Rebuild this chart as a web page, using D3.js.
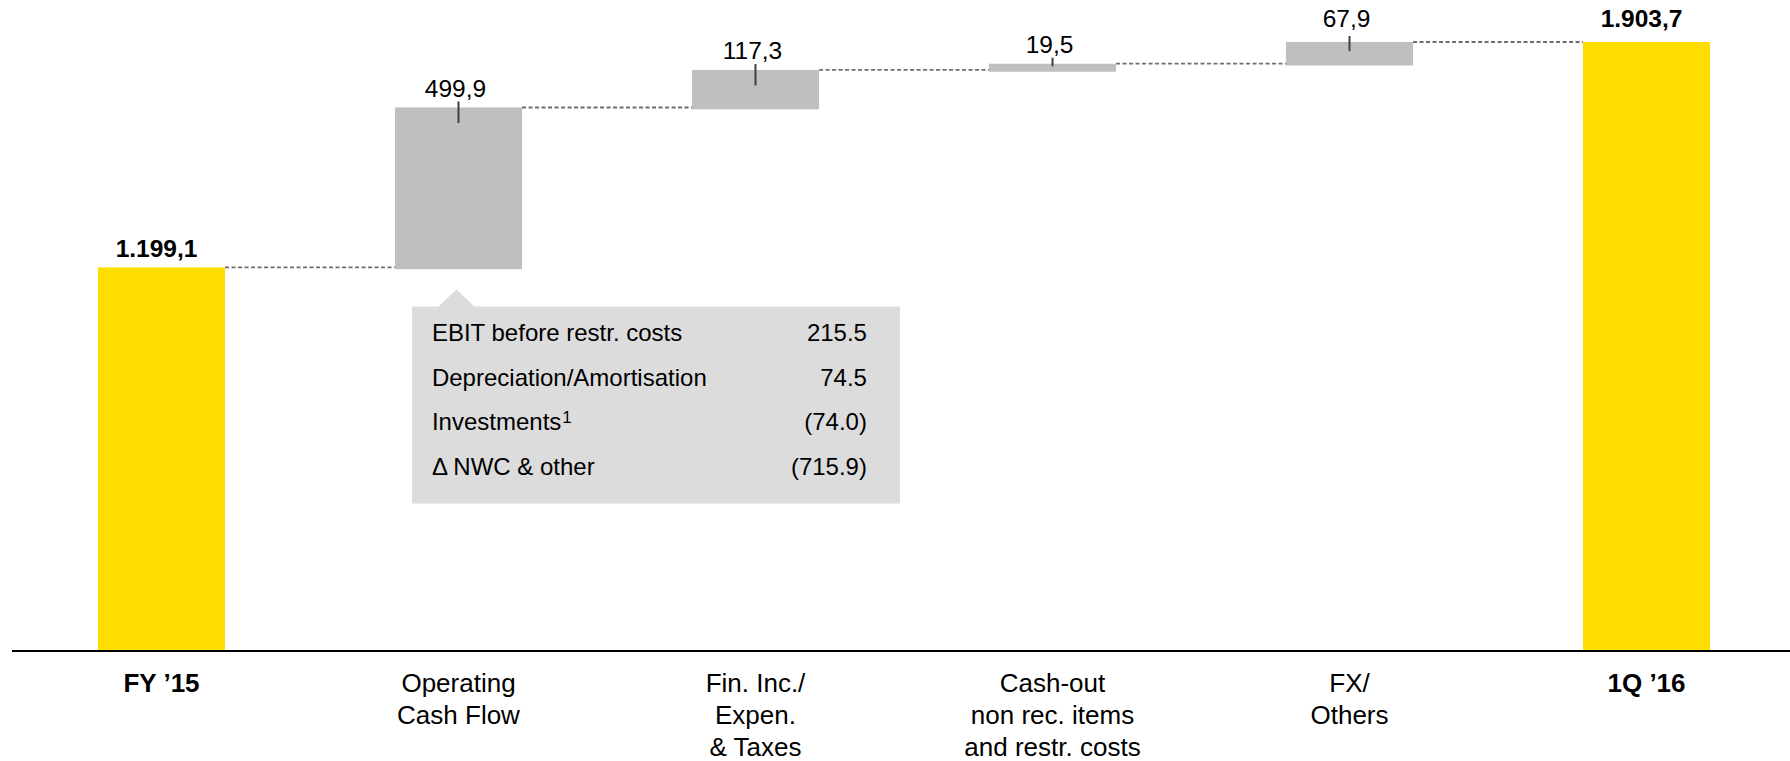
<!DOCTYPE html>
<html>
<head>
<meta charset="utf-8">
<script src="https://cdn.jsdelivr.net/npm/d3@7"></script>
<style>
  html, body { margin: 0; padding: 0; background: #fff; }
  svg { display: block; }
  text { font-family: "Liberation Sans", Arial, sans-serif; fill: #000; }
</style>
</head>
<body>
<svg id="chart" width="1790" height="761"></svg>
<script>
// Net financial position bridge: FY '15 -> 1Q '16
const categoryKeys = ["fy15", "ocf", "fin", "cashout", "fx", "q116"];
const categoryLines = [
  ["FY \u201915"],
  ["Operating", "Cash Flow"],
  ["Fin. Inc./", "Expen.", "& Taxes"],
  ["Cash-out", "non rec. items", "and restr. costs"],
  ["FX/", "Others"],
  ["1Q \u201916"]
];
const barValues = [1199.1, 499.9, 117.3, 19.5, 67.9, 1903.7];
const barKinds = ["total", "delta", "delta", "delta", "delta", "total"];

// Breakdown of the operating cash flow
const breakdownItems = ["EBIT before restr. costs", "Depreciation/Amortisation", "Investments", "\u0394 NWC & other"];
const breakdownNotes = ["", "", "1", ""];
const breakdownValues = [215.5, 74.5, -74.0, -715.9];

const colors = { total: "#ffdd00", delta: "#bfbfbf", box: "#dcdcdc", connector: "#6e6e6e", tick: "#404040" };

const deFormat = d3.formatLocale({ decimal: ",", thousands: ".", grouping: [3], currency: ["", ""] }).format(",.1f");
const enFormat = d3.format(".1f");
const fmtBreakdown = v => v < 0 ? "(" + enFormat(-v) + ")" : enFormat(v);

// Running totals for the waterfall
let running = 0;
const bars = categoryKeys.map((key, i) => {
  let y0, y1;
  if (barKinds[i] === "total") { y0 = 0; y1 = barValues[i]; running = barValues[i]; }
  else { y0 = running; y1 = running + barValues[i]; running = y1; }
  return { key, i, kind: barKinds[i], value: barValues[i], y0, y1, lines: categoryLines[i] };
});
const maxTotal = d3.max(barValues);

const svg = d3.select("#chart");
const W = 1790, H = 761;

const x = d3.scaleBand()
  .domain(categoryKeys)
  .range([13, 1795])
  .paddingInner(0.572)
  .paddingOuter(0.286);

const y = d3.scaleLinear()
  .domain([0, maxTotal])
  .range([651, 42]);

// Change bars overlap the previous level slightly so the steps read as joined
const stepOverlap = 1.8;

// Dashed connectors between consecutive bars
const connectors = bars.slice(0, -1).map((b, i) => ({
  x1: x(b.key) + x.bandwidth(),
  x2: x(bars[i + 1].key),
  v: b.y1
}));
svg.append("g").selectAll("line").data(connectors).join("line")
  .attr("x1", d => d.x1).attr("x2", d => d.x2)
  .attr("y1", d => y(d.v)).attr("y2", d => y(d.v))
  .attr("stroke", colors.connector)
  .attr("stroke-width", 1.8)
  .attr("stroke-dasharray", "4,2.5");

// Bars
svg.append("g").selectAll("rect").data(bars).join("rect")
  .attr("x", d => x(d.key))
  .attr("width", x.bandwidth())
  .attr("y", d => y(Math.max(d.y0, d.y1)))
  .attr("height", d => Math.abs(y(d.y0) - y(d.y1)) + (d.kind === "delta" ? stepOverlap : 0))
  .attr("fill", d => colors[d.kind]);

// Small marker lines on the change bars
const deltas = bars.filter(d => d.kind === "delta");
svg.append("g").selectAll("line").data(deltas).join("line")
  .attr("x1", d => x(d.key) + x.bandwidth() / 2)
  .attr("x2", d => x(d.key) + x.bandwidth() / 2)
  .attr("y1", d => y(d.y1) - 6)
  .attr("y2", d => y(d.y1) + Math.min(15.5, (y(d.y0) - y(d.y1)) * 0.42))
  .attr("stroke", colors.tick)
  .attr("stroke-width", 2);

// Value labels
svg.append("g").selectAll("text").data(bars).join("text")
  .attr("x", d => x(d.key) + x.bandwidth() / 2 + (d.kind === "total" ? -5 : -3))
  .attr("y", d => y(d.y1) - (d.y1 >= maxTotal - 1e-6 ? 15 : 10.5))
  .attr("text-anchor", "middle")
  .attr("font-size", 24.5)
  .attr("font-weight", d => d.kind === "total" ? "bold" : "normal")
  .text(d => deFormat(d.value));

// Baseline
svg.append("line")
  .attr("x1", 12).attr("x2", W)
  .attr("y1", y(0)).attr("y2", y(0))
  .attr("stroke", "#000").attr("stroke-width", 2);

// Category labels
const catLabels = svg.append("g").selectAll("text").data(bars).join("text")
  .attr("text-anchor", "middle")
  .attr("font-size", 26)
  .attr("font-weight", d => d.kind === "total" ? "bold" : "normal");
catLabels.selectAll("tspan").data(d => d.lines.map((l, j) => ({ l, j, cx: x(d.key) + x.bandwidth() / 2 })))
  .join("tspan")
  .attr("x", d => d.cx)
  .attr("y", d => 692 + d.j * 32)
  .text(d => d.l);

// Callout with the operating cash flow breakdown
const ocf = bars[1];
const boxX = x(ocf.key) + 17;
const boxY = y(ocf.y0) + 39;
const boxW = 488, boxH = 197;
const apexX = x(ocf.key) + x.bandwidth() / 2 - 2;
const callout = svg.append("g");
callout.append("path")
  .attr("d", `M${boxX},${boxY} L${apexX - 18},${boxY} L${apexX},${boxY - 17} L${apexX + 18},${boxY} L${boxX + boxW},${boxY} L${boxX + boxW},${boxY + boxH} L${boxX},${boxY + boxH} Z`)
  .attr("fill", colors.box);

const rows = breakdownItems.map((name, i) => ({ name, note: breakdownNotes[i], value: breakdownValues[i], i }));
const rowText = callout.selectAll("text.name").data(rows).join("text")
  .attr("class", "name")
  .attr("x", boxX + 20)
  .attr("y", d => boxY + 35 + d.i * 44.5)
  .attr("font-size", 24);
rowText.append("tspan").text(d => d.name);
rowText.filter(d => d.note).append("tspan")
  .attr("font-size", 17)
  .attr("dy", -7)
  .attr("dx", 1)
  .text(d => d.note);

callout.selectAll("text.val").data(rows).join("text")
  .attr("class", "val")
  .attr("x", boxX + boxW - 33)
  .attr("y", d => boxY + 35 + d.i * 44.5)
  .attr("text-anchor", "end")
  .attr("font-size", 24)
  .text(d => fmtBreakdown(d.value));
</script>
</body>
</html>
